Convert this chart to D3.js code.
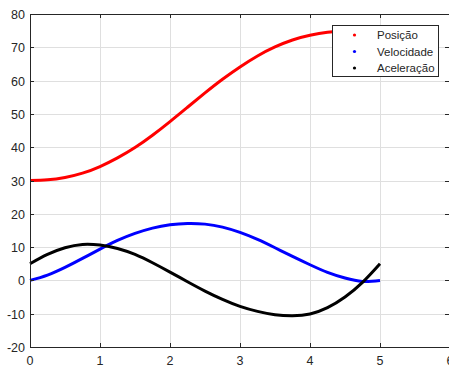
<!DOCTYPE html>
<html>
<head>
    <script src="https://d3js.org/d3.v7.min.js"></script>
    <style>
        body { margin: 0; background: #ffffff; }
        svg { display: block; background: #ffffff; }
        text { font-family: "Liberation Sans", Arial, sans-serif; fill: #262626; }
    </style>
</head>
<body>
<div id="chart"></div>
<script>
    // sample times and values
    const tempo = [0, 0.25, 0.5, 0.75, 1, 1.25, 1.5, 1.75, 2, 2.25, 2.5, 2.75, 3, 3.25, 3.5, 3.75, 4, 4.25, 4.5, 4.75, 5];
    const posicao = [30, 30.2, 30.9, 32.2, 34.2, 36.8, 39.9, 43.6, 47.7, 52.0, 56.3, 60.4, 64.1, 67.4, 70.1, 72.2, 73.6, 74.5, 74.9, 75.0, 75.0];
    const velocidade = [0, 1.6, 3.9, 6.6, 9.4, 12.0, 14.1, 15.7, 16.7, 17.1, 16.9, 16.0, 14.4, 12.3, 9.8, 7.2, 4.7, 2.4, 0.7, -0.3, 0];
    const aceleracao = [5.0, 7.8, 9.8, 10.8, 10.6, 9.6, 7.8, 5.3, 2.5, -0.4, -3.2, -5.7, -7.8, -9.3, -10.3, -10.6, -10.1, -8.2, -5.0, -0.6, 5.0];

    const xTicks = [0, 1, 2, 3, 4, 5, 6];
    const yTicks = [-20, -10, 0, 10, 20, 30, 40, 50, 60, 70, 80];

    const series = [
        { name: 'Posição', values: posicao, color: '#ff0000' },
        { name: 'Velocidade', values: velocidade, color: '#0000ff' },
        { name: 'Aceleração', values: aceleracao, color: '#000000' }
    ];

    const width = 449, height = 367;
    const plotLeft = 30, plotRight = 450, plotTop = 14, plotBottom = 347;

    const svg = d3.select('#chart').append('svg')
        .attr('width', width)
        .attr('height', height);

    const x = d3.scaleLinear().domain([0, 6]).range([plotLeft, plotRight]);
    const y = d3.scaleLinear().domain([-20, 80]).range([plotBottom, plotTop]);

    // grid
    const grid = svg.append('g').attr('stroke', '#dfdfdf').attr('stroke-width', 1);
    grid.selectAll('.gx').data(xTicks.slice(1, -1)).enter().append('line')
        .attr('x1', d => Math.round(x(d)) + 0.5).attr('x2', d => Math.round(x(d)) + 0.5)
        .attr('y1', plotTop).attr('y2', plotBottom);
    grid.selectAll('.gy').data(yTicks.slice(1, -1)).enter().append('line')
        .attr('y1', d => Math.round(y(d)) + 0.5).attr('y2', d => Math.round(y(d)) + 0.5)
        .attr('x1', plotLeft).attr('x2', plotRight);

    // curves
    const line = d3.line()
        .x((d, i) => x(tempo[i]))
        .y(d => y(d))
        .curve(d3.curveNatural);

    svg.append('g').selectAll('path').data(series).enter().append('path')
        .attr('d', d => line(d.values))
        .attr('fill', 'none')
        .attr('stroke', d => d.color)
        .attr('stroke-width', 3);

    // axes box + inward ticks
    const ax = svg.append('g').attr('stroke', '#262626').attr('stroke-width', 1);
    ax.append('rect')
        .attr('x', plotLeft + 0.5).attr('y', plotTop + 0.5)
        .attr('width', plotRight - plotLeft).attr('height', plotBottom - plotTop)
        .attr('fill', 'none');
    const tl = 4;
    xTicks.forEach(t => {
        const px = Math.round(x(t)) + 0.5;
        ax.append('line').attr('x1', px).attr('x2', px).attr('y1', plotBottom).attr('y2', plotBottom - tl);
        ax.append('line').attr('x1', px).attr('x2', px).attr('y1', plotTop).attr('y2', plotTop + tl);
    });
    yTicks.forEach(t => {
        const py = Math.round(y(t)) + 0.5;
        ax.append('line').attr('y1', py).attr('y2', py).attr('x1', plotLeft).attr('x2', plotLeft + tl);
        ax.append('line').attr('y1', py).attr('y2', py).attr('x1', plotRight - 1).attr('x2', plotRight - 1 - tl);
    });

    // tick labels
    svg.append('g').selectAll('text').data(yTicks).enter().append('text')
        .attr('x', 25).attr('y', d => y(d) + 5)
        .attr('text-anchor', 'end')
        .style('font-size', '12.5px')
        .text(d => d);
    svg.append('g').selectAll('text').data(xTicks).enter().append('text')
        .attr('x', d => x(d)).attr('y', 365)
        .attr('text-anchor', 'middle')
        .style('font-size', '12.5px')
        .text(d => d);

    // legend
    const lg = svg.append('g');
    lg.append('rect')
        .attr('x', 332.5).attr('y', 25.5)
        .attr('width', 106).attr('height', 51)
        .attr('fill', 'white').attr('stroke', '#262626').attr('stroke-width', 1);
    series.forEach((s, i) => {
        const ry = 35 + i * 16.5;
        lg.append('circle').attr('cx', 354.5).attr('cy', ry).attr('r', 1.6).attr('fill', s.color);
        lg.append('text').attr('x', 377).attr('y', ry + 4)
            .style('font-size', '11.5px')
            .text(s.name);
    });
</script>
</body>
</html>
